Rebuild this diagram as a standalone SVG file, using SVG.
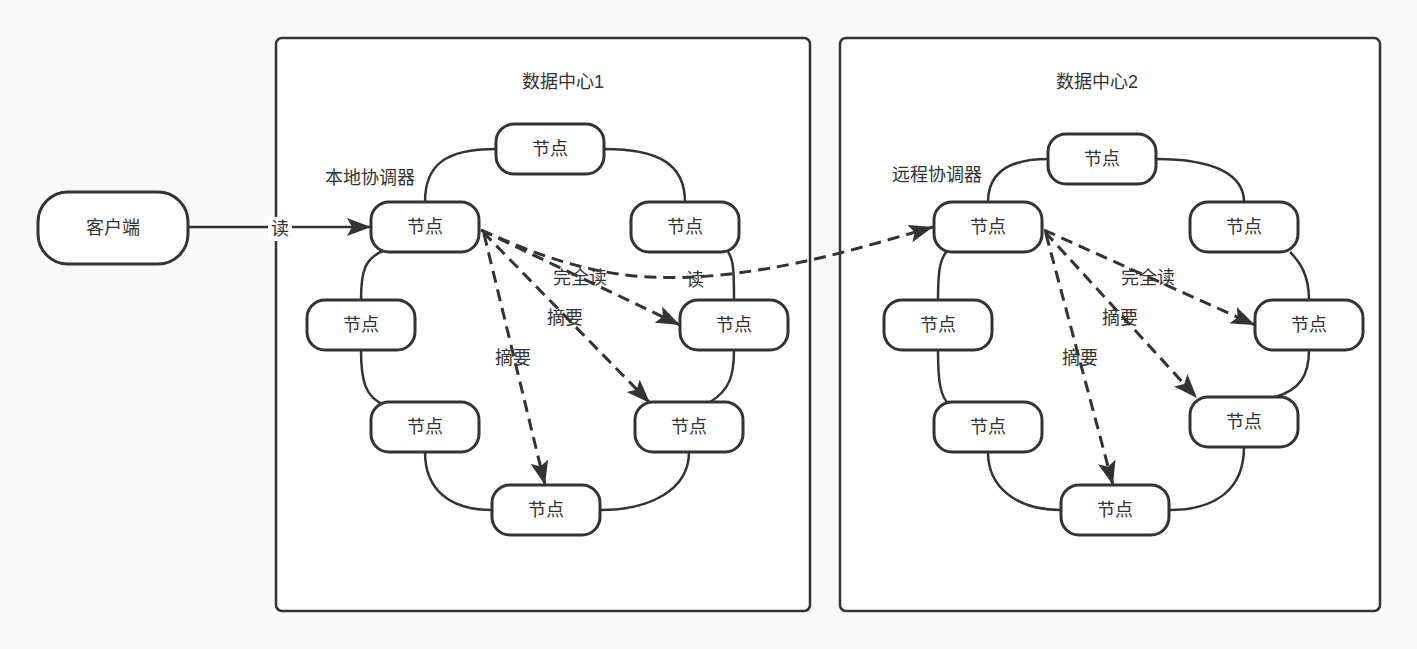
<svg xmlns="http://www.w3.org/2000/svg" width="1417" height="649" viewBox="0 0 1417 649">
<defs>
<style>
text{font-family:"Liberation Sans","Noto Sans CJK SC",sans-serif;font-size:18px;fill:#333;text-anchor:middle;dominant-baseline:central}
.n rect{fill:#fff;stroke:#333;stroke-width:3}
.dc{fill:#fff;stroke:#333;stroke-width:2.5}
.ring{fill:none;stroke:#333;stroke-width:2.5}
.d{fill:none;stroke:#333;stroke-width:3;stroke-dasharray:12 7;marker-end:url(#ah)}
.s{fill:none;stroke:#333;stroke-width:2.5;marker-end:url(#ah)}
.lb{fill:#fff;stroke:none}
</style>
<marker id="ah" viewBox="0 0 10 10" refX="9" refY="5" markerWidth="8" markerHeight="8" markerUnits="userSpaceOnUse" orient="auto" overflow="visible"><path d="M0,0 L10,5 L0,10 Z" fill="#333" transform="scale(2.3) translate(-5.5,-2.8)"/></marker>
<marker id="ah2" viewBox="0 0 24 18" refX="24" refY="9" markerWidth="24" markerHeight="18" markerUnits="userSpaceOnUse" orient="auto"><path d="M0,0 L24,9 L0,18 L5,9 Z" fill="#333"/></marker>
</defs>
<rect width="1417" height="649" fill="#f9f9f9"/>
<g id="dc1"><rect class="dc" x="276" y="38" width="534" height="573" rx="6"/><text x="563" y="82">数据中心1</text></g>
<g id="dc2"><rect class="dc" x="840" y="38" width="540" height="573" rx="6"/><text x="1097" y="82">数据中心2</text></g>
<g id="rings">
<path class="ring" d="M496,149 C445,149 425,165 425,202 M604,149 C660,149 685,165 685,202 M385,250 C365,258 361,270 361,300 M361,350 C361,380 365,398 385,405 M425,452 C425,490 450,510 492,510 M600,510 C650,510 689,490 689,452 M710,402 C730,390 734,375 734,350 M734,300 C734,275 734,260 728,252"/>
<path class="ring" d="M1048,159 C1005,159 988,175 988,202 M1156,159 C1215,159 1244,175 1244,202 M948,250 C940,258 938,270 938,300 M938,350 C938,380 940,398 950,405 M988,452 C988,490 1020,510 1061,510 M1169,510 C1215,510 1244,490 1244,447 M1275,397 C1300,390 1309,375 1309,350 M1309,300 C1309,275 1300,262 1290,252"/>
</g>
<g id="connectors">
<path style="fill:none;stroke:#333;stroke-width:2.5;marker-end:url(#ah2)" d="M188,227 L371,227"/>
<rect class="lb" x="268" y="217" width="24" height="24"/><text x="280" y="229">读</text>
<path style="fill:none;stroke:#333;stroke-width:3;stroke-dasharray:12 7;marker-end:url(#ah2)" d="M481,230 L680,325"/>
<path style="fill:none;stroke:#333;stroke-width:3;stroke-dasharray:12 7;marker-end:url(#ah2)" d="M483,232 L650,403"/>
<path style="fill:none;stroke:#333;stroke-width:3;stroke-dasharray:12 7;marker-end:url(#ah2)" d="M484,234 L545,485"/>
<path style="fill:none;stroke:#333;stroke-width:3;stroke-dasharray:12 7;marker-end:url(#ah2)" d="M481,230 C560,265 620,285 720,275 C800,267 870,245 933,227"/>
<path style="fill:none;stroke:#333;stroke-width:3;stroke-dasharray:12 7;marker-end:url(#ah2)" d="M1044,230 L1255,325"/>
<path style="fill:none;stroke:#333;stroke-width:3;stroke-dasharray:12 7;marker-end:url(#ah2)" d="M1045,232 L1197,398"/>
<path style="fill:none;stroke:#333;stroke-width:3;stroke-dasharray:12 7;marker-end:url(#ah2)" d="M1046,234 L1113,485"/>
<text x="580" y="278">完全读</text><text x="695" y="280">读</text><text x="565" y="318">摘要</text><text x="513" y="358">摘要</text>
<text x="1148" y="278">完全读</text><text x="1120" y="318">摘要</text><text x="1080" y="358">摘要</text>
<text x="370" y="178">本地协调器</text><text x="937" y="175">远程协调器</text>
</g>
<g id="client" class="n"><rect x="38" y="192" width="150" height="72" rx="30"/><text x="113" y="228">客户端</text></g>
<g id="n1a" class="n"><rect x="496" y="124" width="108" height="50" rx="18"/><text x="550" y="149">节点</text></g>
<g id="n1b" class="n"><rect x="371" y="202" width="108" height="50" rx="18"/><text x="425" y="227">节点</text></g>
<g id="n1c" class="n"><rect x="631" y="202" width="108" height="50" rx="18"/><text x="685" y="227">节点</text></g>
<g id="n1d" class="n"><rect x="307" y="300" width="108" height="50" rx="18"/><text x="361" y="325">节点</text></g>
<g id="n1e" class="n"><rect x="680" y="300" width="108" height="50" rx="18"/><text x="734" y="325">节点</text></g>
<g id="n1f" class="n"><rect x="371" y="402" width="108" height="50" rx="18"/><text x="425" y="427">节点</text></g>
<g id="n1g" class="n"><rect x="635" y="402" width="108" height="50" rx="18"/><text x="689" y="427">节点</text></g>
<g id="n1h" class="n"><rect x="492" y="485" width="108" height="50" rx="18"/><text x="546" y="510">节点</text></g>
<g id="n2a" class="n"><rect x="1048" y="134" width="108" height="50" rx="18"/><text x="1102" y="159">节点</text></g>
<g id="n2b" class="n"><rect x="934" y="202" width="108" height="50" rx="18"/><text x="988" y="227">节点</text></g>
<g id="n2c" class="n"><rect x="1190" y="202" width="108" height="50" rx="18"/><text x="1244" y="227">节点</text></g>
<g id="n2d" class="n"><rect x="884" y="300" width="108" height="50" rx="18"/><text x="938" y="325">节点</text></g>
<g id="n2e" class="n"><rect x="1255" y="300" width="108" height="50" rx="18"/><text x="1309" y="325">节点</text></g>
<g id="n2f" class="n"><rect x="934" y="402" width="108" height="50" rx="18"/><text x="988" y="427">节点</text></g>
<g id="n2g" class="n"><rect x="1190" y="397" width="108" height="50" rx="18"/><text x="1244" y="422">节点</text></g>
<g id="n2h" class="n"><rect x="1061" y="485" width="108" height="50" rx="18"/><text x="1115" y="510">节点</text></g>
</svg>
